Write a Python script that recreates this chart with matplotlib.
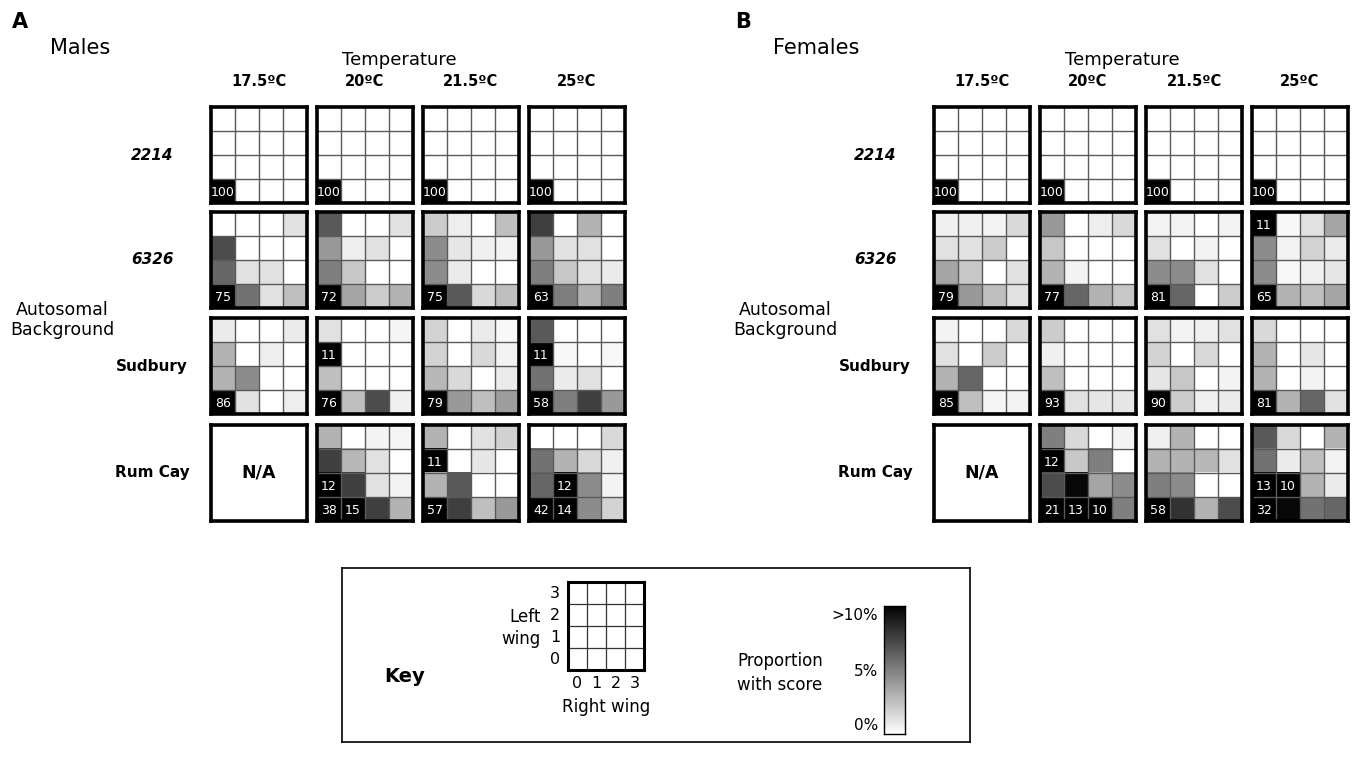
import numpy as np
import matplotlib
matplotlib.use("Agg")
import matplotlib.pyplot as plt
from matplotlib.colors import LinearSegmentedColormap

plt.rcParams['font.family'] = ['DejaVu Sans']

# ---------------- data (percent of flies with each L/R wing score) ----------------
# rows: left wing 3 (top) -> 0 (bottom); columns: right wing 0 -> 3
temperatures = ["17.5ºC", "20ºC", "21.5ºC", "25ºC"]
backgrounds = ["2214", "6326", "Sudbury", "Rum Cay"]
italic_backgrounds = ["2214", "6326"]

base_2214 = [[0, 0, 0, 0], [0, 0, 0, 0], [0, 0, 0, 0], [100, 0, 0, 0]]

males_2214 = [base_2214, base_2214, base_2214, base_2214]
males_6326 = [
    [[0, 0, 0, 1.2], [7, 0, 0, 0], [6, 1.2, 1.2, 0], [75, 5.5, 1.2, 2.5]],
    [[6.5, 0, 0, 1.2], [4, 0.7, 1.2, 0], [5, 2.2, 0, 0], [72, 3.5, 2, 3]],
    [[2, 0.7, 0, 2.5], [4.5, 1, 0.6, 0.5], [4.5, 0.8, 0, 0], [75, 6.5, 1.5, 2.5]],
    [[7.5, 0, 3, 0], [4, 1.2, 1.2, 0], [5, 2.2, 1.2, 0.8], [63, 5, 3, 5]],
]
males_sudbury = [
    [[0.8, 0, 0, 0.8], [3, 0, 0.7, 0], [3, 4.5, 0, 0], [86, 1.2, 0, 0.7]],
    [[1.2, 0, 0, 0.4], [11, 0, 0, 0], [2.5, 0, 0, 0], [76, 2.5, 7, 0.6]],
    [[1.7, 0, 0.8, 0.3], [1.7, 0, 1.5, 0.5], [2.8, 1.5, 0, 0.8], [79, 4, 2.5, 3.8]],
    [[6.5, 0, 0, 0], [11, 0.3, 0, 0.3], [5.5, 0.8, 1.2, 0], [58, 5, 7.5, 4]],
]
males_rumcay = [
    None,
    [[3, 0, 0.5, 0.4], [7.5, 2.8, 1.2, 0], [12, 7.5, 1.2, 0.5], [38, 15, 7.5, 3]],
    [[3, 0, 1.2, 1.8], [11, 0, 1, 0], [3, 6.5, 0, 0], [57, 7.5, 2.5, 4]],
    [[0, 0, 0, 1.5], [5.5, 3, 1.5, 0.6], [6, 12, 4.5, 0.5], [42, 14, 4.5, 1.7]],
]

females_2214 = [base_2214, base_2214, base_2214, base_2214]
females_6326 = [
    [[0.6, 0.6, 0.5, 1.5], [1.2, 1.2, 2, 0], [3.5, 2.2, 0, 1.2], [79, 4, 2.5, 1.2]],
    [[4, 0, 0.7, 1.5], [2.2, 0, 0, 0], [3, 0.5, 0, 0], [77, 6, 3, 2.2]],
    [[0.5, 0.5, 0, 0.5], [1.2, 0, 0.5, 0], [4.5, 4.5, 1.2, 0], [81, 6, 0, 2]],
    [[11, 0.3, 1.2, 3.5], [4.5, 0.5, 1.7, 0.8], [4.5, 0.3, 0.6, 1], [65, 3, 2.5, 3.5]],
]
females_sudbury = [
    [[0.5, 0, 0, 1.5], [1.2, 0, 2, 0], [3, 6, 0, 0], [85, 2.5, 0.4, 0.5]],
    [[2, 0, 0, 0], [0.6, 0, 0, 0], [2.5, 0, 0, 0], [93, 1.2, 1, 1]],
    [[1.2, 0.5, 0.6, 1.2], [1.7, 0, 1.5, 0], [1, 2.2, 0, 0.5], [90, 2, 0.6, 0.8]],
    [[1.5, 0, 0, 0], [3, 0, 1, 0], [3, 0, 0.5, 0], [81, 3, 6, 1.2]],
]
females_rumcay = [
    None,
    [[5, 1.5, 0, 0.5], [12, 2.2, 5, 0], [7, 9.7, 3.5, 4.5], [21, 13, 10, 5]],
    [[0.6, 3, 0, 0], [3, 3, 2.8, 1.2], [5, 4.5, 0, 0], [58, 8, 3, 7]],
    [[6.5, 1.5, 0, 3], [5.5, 0.8, 2.5, 0.5], [13, 10, 3, 0.8], [32, 9.7, 5.5, 6]],
]

males = [males_2214, males_6326, males_sudbury, males_rumcay]
females = [females_2214, females_6326, females_sudbury, females_rumcay]

key_ticks = ["0", "1", "2", "3"]
cbar_labels = [">10%", "5%", "0%"]

# ---------------- layout ----------------
W, H = 1356, 761
fig = plt.figure(figsize=(W / 100, H / 100), dpi=100)
cmap = LinearSegmentedColormap.from_list("wg", ["#ffffff", "#000000"])


def add_ax(x, y, w, h):
    return fig.add_axes([x / W, 1 - (y + h) / H, w / W, h / H])


def ftext(x, y, s, **kw):
    fig.text(x / W, 1 - y / H, s, **kw)


def draw_grid(ax, data):
    ax.set_xlim(0, 4)
    ax.set_ylim(0, 4)
    ax.set_xticks([])
    ax.set_yticks([])
    for s in ax.spines.values():
        s.set_linewidth(2.6)
        s.set_color("black")
    if data is None:
        ax.text(2, 2, "N/A", ha="center", va="center", fontsize=12.5,
                fontweight="bold")
        return
    arr = np.array(data, dtype=float)
    ax.imshow(np.minimum(arr, 10), cmap=cmap, vmin=0, vmax=10,
              extent=[0, 4, 0, 4], origin="upper", interpolation="nearest",
              aspect="auto")
    for k in (1, 2, 3):
        ax.axhline(k, color="#5a5a5a", lw=1.0)
        ax.axvline(k, color="#5a5a5a", lw=1.0)
    for r in range(4):
        for c in range(4):
            v = arr[r, c]
            if v >= 10:
                ax.text(c + 0.5, 3 - r + 0.45, f"{int(round(v))}", color="white",
                        ha="center", va="center", fontsize=9)


grid_w = 96
row_tops = [107, 212, 318, 425]


def panel(x0, letter, title, data_sets):
    col_lefts = [x0 + i * 106 for i in range(4)]
    ftext(x0 - 199, 22, letter, fontsize=15, fontweight="bold", va="center")
    ftext(x0 - 161, 48, title, fontsize=15, va="center")
    ftext(x0 + 188, 60, "Temperature", fontsize=13, ha="center", va="center")
    for i, t in enumerate(temperatures):
        ftext(col_lefts[i] + grid_w / 2, 82, t, fontsize=10.5, fontweight="bold",
              ha="center", va="center")
    for j, bg in enumerate(backgrounds):
        style = "italic" if bg in italic_backgrounds else "normal"
        ftext(x0 - 59, row_tops[j] + grid_w / 2, bg, fontsize=11, fontweight="bold",
              style=style, ha="center", va="center")
        for i in range(4):
            ax = add_ax(col_lefts[i], row_tops[j], grid_w, grid_w)
            draw_grid(ax, data_sets[j][i])
    ftext(x0 - 149, 320, "Autosomal\nBackground", fontsize=12.5, ha="center",
          va="center", linespacing=1.15)


panel(211, "A", "Males", males)
panel(934, "B", "Females", females)

# ---------------- key ----------------
kb = add_ax(342, 568, 628, 174)
kb.set_xticks([])
kb.set_yticks([])
for s in kb.spines.values():
    s.set_linewidth(1.2)

ftext(405, 676, "Key", fontsize=14, fontweight="bold", ha="center", va="center")
gx, gy, gw, gh = 568, 582, 76, 88
kg = add_ax(gx, gy, gw, gh)
kg.set_xlim(0, 4)
kg.set_ylim(0, 4)
kg.set_xticks([])
kg.set_yticks([])
for s in kg.spines.values():
    s.set_linewidth(2.2)
for k in (1, 2, 3):
    kg.axhline(k, color="#333333", lw=0.9)
    kg.axvline(k, color="#333333", lw=0.9)
cell_h = gh / 4
cell_w = gw / 4
for i, t in enumerate(key_ticks):
    ftext(555, gy + gh - (i + 0.5) * cell_h, t, fontsize=11.5, ha="center",
          va="center")
    ftext(gx + (i + 0.5) * cell_w, gy + gh + 14, t, fontsize=11.5, ha="center",
          va="center")
ftext(541, gy + 1.5 * cell_h + 2, "Left", fontsize=12, ha="right", va="center")
ftext(541, gy + 2.5 * cell_h + 2, "wing", fontsize=12, ha="right", va="center")
ftext(gx + gw / 2, gy + gh + 37, "Right wing", fontsize=12, ha="center",
      va="center")
ftext(737, 661, "Proportion", fontsize=12, ha="left", va="center")
ftext(737, 685, "with score", fontsize=12, ha="left", va="center")

cx, cy, cw, ch = 884, 606, 21, 128
cb = add_ax(cx, cy, cw, ch)
grad = np.linspace(10, 0, 256).reshape(-1, 1)
cb.imshow(grad, cmap=cmap, vmin=0, vmax=10, aspect="auto",
          extent=[0, 1, 0, 10], origin="upper")
cb.set_xticks([])
cb.set_yticks([])
for s in cb.spines.values():
    s.set_linewidth(1.0)
for lab, yy in zip(cbar_labels, [cy + 9, cy + ch / 2 + 2, cy + ch - 8]):
    ftext(cx - 6, yy, lab, fontsize=11, ha="right", va="center")

fig.savefig("out.png", dpi=100)
